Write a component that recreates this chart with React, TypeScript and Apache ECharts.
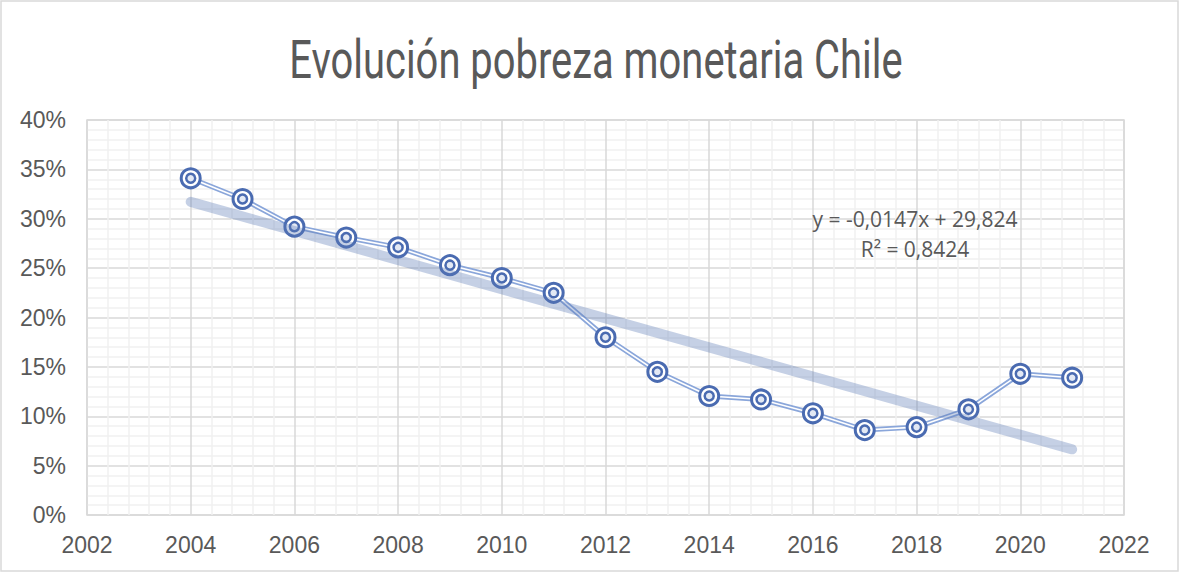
import React, { useEffect, useRef } from "react";
import * as echarts from "echarts";

const years = [2004, 2005, 2006, 2007, 2008, 2009, 2010, 2011, 2012, 2013, 2014, 2015, 2016, 2017, 2018, 2019, 2020, 2021];
const poverty = [34.1, 32.0, 29.2, 28.1, 27.1, 25.3, 24.0, 22.5, 18.0, 14.5, 12.05, 11.7, 10.3, 8.6, 8.9, 10.7, 14.3, 13.9];
const titleText = "Evolución pobreza monetaria Chile";
const equationText = "y = -0,0147x + 29,824";
const r2Text = "R² = 0,8424";

function linearFit(xs: number[], ys: number[]) {
  const n = xs.length;
  const mx = xs.reduce((a, b) => a + b, 0) / n;
  const my = ys.reduce((a, b) => a + b, 0) / n;
  let sxy = 0, sxx = 0;
  for (let i = 0; i < n; i++) {
    sxy += (xs[i] - mx) * (ys[i] - my);
    sxx += (xs[i] - mx) * (xs[i] - mx);
  }
  const b = sxy / sxx;
  return { b, a: my - b * mx };
}

export default function App() {
  const ref = useRef<HTMLDivElement>(null);
  useEffect(() => {
    if (!ref.current) return;
    const chart = echarts.init(ref.current, null, { renderer: "svg" });
    const data = years.map((y, i) => [y, poverty[i]]);
    const fit = linearFit(years, poverty);
    const x0 = years[0], x1 = years[years.length - 1];
    const trend = [[x0, fit.a + fit.b * x0], [x1, fit.a + fit.b * x1]];

    const titleFont = "Roboto";
    const titleSize = 53;
    let scaleX = 0.75;
    try {
      const c = document.createElement("canvas");
      const ctx = c.getContext("2d");
      if (ctx) {
        ctx.font = `${titleSize}px ${titleFont}`;
        const w = ctx.measureText(titleText).width;
        if (w > 0) scaleX = 613 / w;
      }
    } catch (e) {}

    const markerColor = "#4a6bb1";
    const axisLabel = { color: "#595959", fontSize: 23, fontFamily: "Liberation Sans, Arial, sans-serif" };

    chart.setOption({
      animation: false,
      backgroundColor: "#ffffff",
      grid: {
        left: 87, right: 56, top: 120, bottom: 58,
        show: true, borderColor: "#d9d9d9", borderWidth: 1.5, containLabel: false,
      },
      xAxis: {
        type: "value", min: 2002, max: 2022, interval: 2,
        axisLine: { show: false }, axisTick: { show: false },
        axisLabel: { ...axisLabel, margin: 18, formatter: (v: number) => String(v) },
        splitLine: { show: true, lineStyle: { color: "#d9d9d9", width: 1.5 } },
        minorTick: { show: false, splitNumber: 5 },
        minorSplitLine: { show: true, lineStyle: { color: "#f0f0f0", width: 1.5 } },
      },
      yAxis: {
        type: "value", min: 0, max: 40, interval: 5,
        axisLine: { show: false }, axisTick: { show: false },
        axisLabel: { ...axisLabel, margin: 21, formatter: (v: number) => `${v}%` },
        splitLine: { show: true, lineStyle: { color: "#d9d9d9", width: 1.5 } },
        minorTick: { show: false, splitNumber: 5 },
        minorSplitLine: { show: true, lineStyle: { color: "#f0f0f0", width: 1.5 } },
      },
      series: [
        {
          type: "line", data, symbol: "none", z: 2,
          lineStyle: { color: "#8aa6da", width: 5 },
        },
        {
          type: "line", data, symbol: "none", z: 3,
          lineStyle: { color: "#ffffff", width: 1.6 },
        },
        {
          type: "scatter", data, symbol: "circle", symbolSize: 19, z: 4,
          itemStyle: { color: "#ffffff", borderColor: markerColor, borderWidth: 3, opacity: 1 },
        },
        {
          type: "scatter", data, symbol: "circle", symbolSize: 9, z: 5,
          itemStyle: { color: "#e3e9f4", borderColor: markerColor, borderWidth: 2.5, opacity: 1 },
        },
        {
          type: "line", data: trend, symbol: "none", z: 6,
          lineStyle: { color: "rgba(90,120,180,0.35)", width: 10, cap: "round" },
        },
      ],
      graphic: [
        {
          type: "rect", z: -1,
          shape: { x: 1, y: 1, width: 1177, height: 570 },
          style: { fill: "none", stroke: "#d9d9d9", lineWidth: 1.5 },
        },
        {
          type: "text", x: 596, y: 59, scaleX, scaleY: 1, originX: 0, originY: 0,
          style: {
            text: titleText, fill: "#595959",
            font: `${titleSize}px ${titleFont}`,
            align: "center", verticalAlign: "middle",
          },
        },
        {
          type: "text", x: 915, y: 219, z: 100,
          style: {
            text: equationText, fill: "#595959",
            font: "21px 'Open Sans', sans-serif",
            align: "center", verticalAlign: "middle",
          },
        },
        {
          type: "text", x: 915, y: 249, z: 100,
          style: {
            text: r2Text, fill: "#595959",
            font: "21px 'Open Sans', sans-serif",
            align: "center", verticalAlign: "middle",
          },
        },
      ],
    });
    return () => chart.dispose();
  }, []);
  return (
    <div
      ref={ref}
      style={{ position: "fixed", left: 0, top: 0, width: 1180, height: 573, background: "#fff" }}
    />
  );
}
